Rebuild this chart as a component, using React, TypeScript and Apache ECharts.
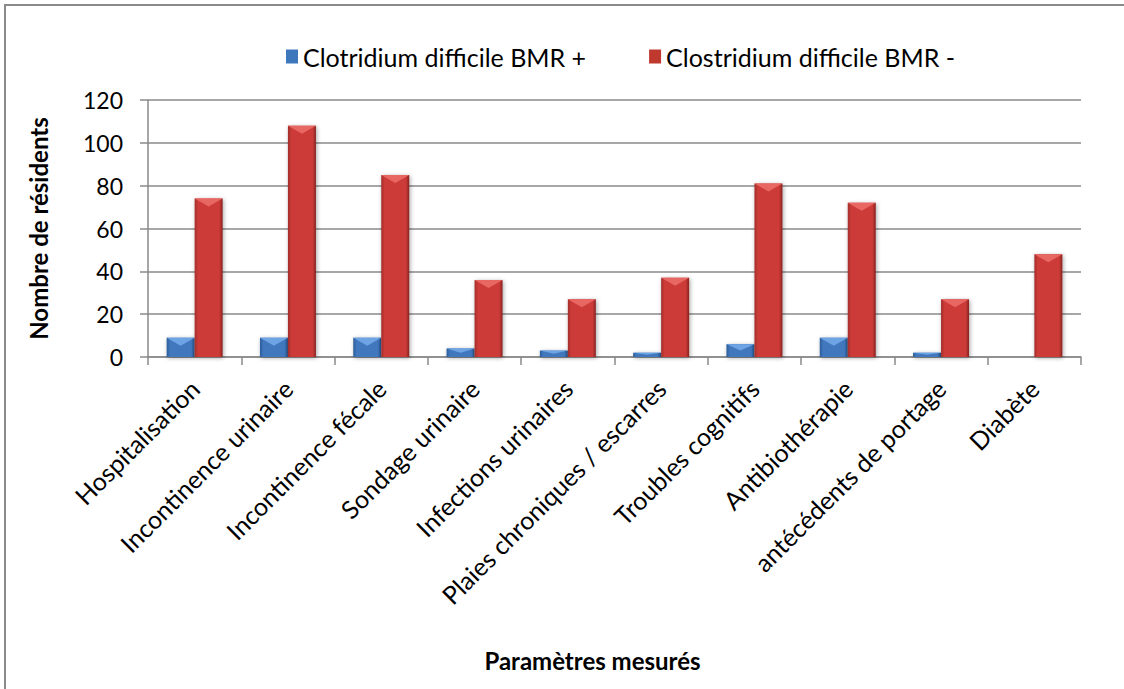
import React, { useEffect, useRef } from "react";
import * as echarts from "echarts";

const categories = [
  "Hospitalisation",
  "Incontinence urinaire",
  "Incontinence fécale",
  "Sondage urinaire",
  "Infections urinaires",
  "Plaies chroniques / escarres",
  "Troubles cognitifs",
  "Antibiothérapie",
  "antécédents de portage",
  "Diabète",
];
const seriesPlusName = "Clotridium difficile BMR +";
const seriesMinusName = "Clostridium difficile BMR -";
const bmrPlus = [9, 9, 9, 4, 3, 2, 6, 9, 2, 0];
const bmrMinus = [74, 108, 85, 36, 27, 37, 81, 72, 27, 48];
const yTicks = { min: 0, max: 120, interval: 20 };

const FONT = "Lato, 'Open Sans', sans-serif";

function makeRender(side: number, pal: { edge: string; mid: string; top: string; dark: string }) {
  return (params: any, api: any) => {
    const idx = api.value(0);
    const val = api.value(1);
    const base = api.coord([idx, 0]);
    const top = api.coord([idx, val]);
    const band = api.size([1, 0])[0];
    const w = band * 0.3;
    const x0 = side < 0 ? base[0] - w : base[0];
    const x1 = x0 + w;
    const h = base[1] - top[1];
    if (h <= 0.5) return { type: "group", children: [] };
    const d = Math.min(8, h * 0.5);
    const fill = new echarts.graphic.LinearGradient(0, 0, 1, 0, [
      { offset: 0, color: pal.edge },
      { offset: 0.12, color: pal.mid },
      { offset: 0.5, color: pal.mid },
      { offset: 0.88, color: pal.mid },
      { offset: 1, color: pal.dark },
    ]);
    return {
      type: "group",
      children: [
        {
          type: "rect",
          shape: { x: x0, y: top[1], width: w, height: h },
          style: {
            fill,
            shadowColor: "rgba(0,0,0,0.35)",
            shadowBlur: 4,
            shadowOffsetX: 1,
            shadowOffsetY: 1,
          },
        },
        {
          type: "polygon",
          shape: {
            points: [
              [x0, top[1]],
              [x1, top[1]],
              [(x0 + x1) / 2, top[1] + d],
            ],
          },
          style: { fill: pal.top },
        },
      ],
    };
  };
}

const bluePal = { edge: "#2c5c98", mid: "#3f77bd", top: "#6ea4e4", dark: "#244e84" };
const redPal = { edge: "#a12d2a", mid: "#cc3b37", top: "#e86763", dark: "#862320" };

export default function App() {
  const ref = useRef<HTMLDivElement>(null);
  useEffect(() => {
    document.body.style.margin = "0";
    const chart = echarts.init(ref.current!, null, { renderer: "svg" });
    chart.setOption({
      animation: false,
      backgroundColor: "#ffffff",
      textStyle: { fontFamily: FONT, color: "#000" },
      graphic: [
        {
          type: "rect",
          shape: { x: 5, y: 5, width: 1200, height: 800 },
          style: { fill: "none", stroke: "#8a8a8a", lineWidth: 2 },
          silent: true,
        },
      ],
      legend: {
        top: 39,
        left: 281,
        itemWidth: 12,
        itemHeight: 14,
        itemGap: 63,
        icon: "rect",
        textStyle: { fontFamily: FONT, fontSize: 25, color: "#000" },
        data: [seriesPlusName, seriesMinusName],
      },
      grid: { left: 148, right: 43, top: 100, bottom: 332, containLabel: false },
      xAxis: {
        type: "category",
        data: categories,
        name: "Paramètres mesurés",
        nameLocation: "middle",
        nameGap: 291,
        nameTextStyle: { fontFamily: FONT, fontSize: 24, fontWeight: "bold", color: "#000", padding: [0, 44, 0, 0] },
        axisLine: { lineStyle: { color: "#8a8a8a", width: 1.5 } },
        axisTick: { show: true, length: 8, alignWithLabel: false, lineStyle: { color: "#8a8a8a", width: 1.5 } },
        axisLabel: { interval: 0, rotate: 45, margin: 27, fontFamily: FONT, fontSize: 25, color: "#000" },
      },
      yAxis: {
        type: "value",
        min: yTicks.min,
        max: yTicks.max,
        interval: yTicks.interval,
        name: "Nombre de résidents",
        nameLocation: "middle",
        nameRotate: 90,
        nameGap: 98,
        nameTextStyle: { fontFamily: FONT, fontSize: 24, fontWeight: "bold", color: "#000" },
        axisLine: { show: true, lineStyle: { color: "#8a8a8a", width: 1.5 } },
        axisTick: { show: true, length: 8, inside: false, lineStyle: { color: "#8a8a8a", width: 1.5 } },
        axisLabel: { margin: 25, fontFamily: FONT, fontSize: 23, color: "#000" },
        splitLine: { lineStyle: { color: "#8a8a8a", width: 1.5 } },
      },
      series: [
        {
          name: seriesPlusName,
          type: "custom",
          renderItem: makeRender(-1, bluePal),
          itemStyle: { color: "#3f77bd" },
          encode: { x: 0, y: 1 },
          data: bmrPlus.map((v, i) => [i, v]),
        },
        {
          name: seriesMinusName,
          type: "custom",
          renderItem: makeRender(1, redPal),
          itemStyle: { color: "#c0392f" },
          encode: { x: 0, y: 1 },
          data: bmrMinus.map((v, i) => [i, v]),
        },
      ],
    });
    return () => chart.dispose();
  }, []);
  return <div ref={ref} style={{ width: 1124, height: 689 }} />;
}
